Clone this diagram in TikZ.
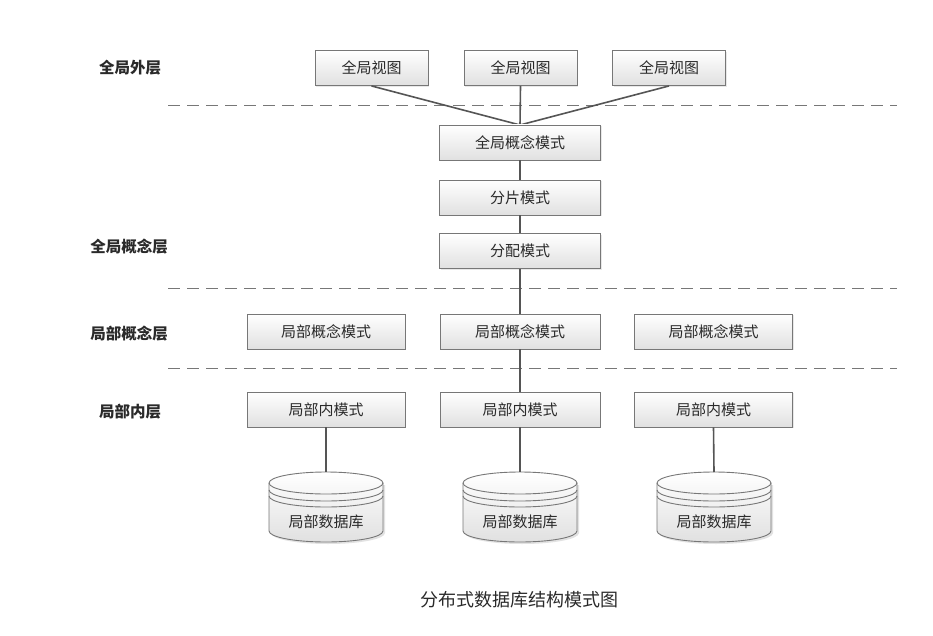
\documentclass[tikz,border=0pt]{standalone}
\usepackage{fontspec}
\setmainfont{Noto Sans CJK SC}
\usetikzlibrary{shadows}
\definecolor{edge}{HTML}{555555}
\definecolor{txt}{HTML}{2A2A2A}
\tikzset{
  box/.style={draw=edge!80, line width=0.9pt, top color=white, bottom color=black!12,
    minimum height=35pt, inner sep=0pt, font=\fontsize{15}{15}\selectfont, text=txt,
    drop shadow={opacity=0.18, shadow xshift=1.2pt, shadow yshift=-1.2pt}},
  wv/.style={box, minimum width=113pt},
  wg/.style={box, minimum width=161pt},
  wl/.style={box, minimum width=158pt},
  layer/.style={font=\fontsize{15.5}{15.5}\selectfont\bfseries, text=txt},
  conn/.style={draw=edge, line width=1.6pt},
  sep/.style={draw=edge!80, line width=0.9pt, dash pattern=on 12pt off 7pt},
  dbtxt/.style={font=\fontsize{15}{15}\selectfont, text=txt},
  dbline/.style={draw=edge!80, line width=0.9pt},
}
\newcommand{\mydb}[3]{% x, name, label
  \begin{scope}[shift={(#1,0)}]
    \fill[black!25, opacity=0.45] (-55,485) -- (-55,533) arc[start angle=180,end angle=0,x radius=57,y radius=11]
      -- (59,485) -- cycle;
    \draw[dbline, top color=white, bottom color=black!12]
      (-57,483) -- (-57,531) arc[start angle=180,end angle=0,x radius=57,y radius=11]
      -- (57,483) arc[start angle=0,end angle=-180,x radius=57,y radius=11] -- cycle;
    \draw[dbline] (-57,483) arc[start angle=180,end angle=0,x radius=57,y radius=11];
    \draw[dbline] (-57,490) arc[start angle=180,end angle=0,x radius=57,y radius=11];
    \draw[dbline] (-57,496) arc[start angle=180,end angle=0,x radius=57,y radius=11];
    \coordinate (#2) at (0,472);
    \node[dbtxt] (#2l) at (0,522) {#3};
  \end{scope}}
\begin{document}
\begin{tikzpicture}[x=1pt,y=-1pt]
\useasboundingbox[fill=white] (0,0) rectangle (933,636);

% layer labels
\node[layer] (L1) at (130,68) {全局外层};
\node[layer] (L2) at (129,247) {全局概念层};
\node[layer] (L3) at (129,334) {局部概念层};
\node[layer] (L4) at (130,412) {局部内层};

% separators
\coordinate (s1a) at (168,105); \coordinate (s1b) at (897,105);
\coordinate (s2a) at (168,288); \coordinate (s2b) at (897,288);
\coordinate (s3a) at (168,368); \coordinate (s3b) at (897,368);
\draw[sep] (s1a) -- (s1b);
\draw[sep] (s2a) -- (s2b);
\draw[sep] (s3a) -- (s3b);

\coordinate (gtop) at (520,125);

% nodes
\node[wv] (v1) at (371.5,68) {全局视图};
\node[wv] (v2) at (520.5,68) {全局视图};
\node[wv] (v3) at (669,68) {全局视图};

\draw[conn] (v1.south) -- (gtop);
\draw[conn] (v2.south) -- (gtop);
\draw[conn] (v3.south) -- (gtop);

\node[wg] (g) at (520,142.5) {全局概念模式};
\node[wg] (f) at (520,197.5) {分片模式};
\node[wg] (p) at (520,251) {分配模式};

\draw[conn] (g.south) -- (f.north);
\draw[conn] (f.south) -- (p.north);

\node[wl] (lc1) at (326,331.5) {局部概念模式};
\node[wl, minimum width=160pt] (lc2) at (520,331.5) {局部概念模式};
\node[wl] (lc3) at (713.5,331.5) {局部概念模式};

\draw[conn] (p.south) -- (lc2.north);

\node[wl] (li1) at (326,409.5) {局部内模式};
\node[wl, minimum width=160pt] (li2) at (520,409.5) {局部内模式};
\node[wl] (li3) at (713.5,409.5) {局部内模式};

\draw[conn] (lc2.south) -- (li2.north);

\mydb{326}{d1}{局部数据库}
\mydb{520}{d2}{局部数据库}
\mydb{714}{d3}{局部数据库}

\draw[conn] (li1.south) -- (d1);
\draw[conn] (li2.south) -- (d2);
\draw[conn] (li3.south) -- (d3);

\node[font=\fontsize{18}{18}\selectfont, text=txt] (cap) at (519,600) {分布式数据库结构模式图};
\end{tikzpicture}
\end{document}
